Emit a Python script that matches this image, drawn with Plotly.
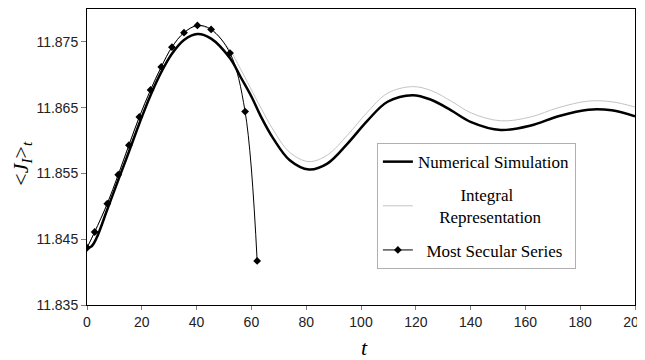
import plotly.graph_objects as go

# Numerical simulation (thick black)
t_num = [0, 1.6, 3.4, 7.3, 11.4, 15.3, 19.1, 23.2, 27.1, 31, 35.4, 40.3, 45.3, 52.2, 56,
         60, 63.3, 68, 74, 81, 87.7, 95, 102.3, 109.7, 118.8, 125.6, 132.9, 140.2, 151,
         162, 172, 183, 191.5, 200]
j_num = [11.8437, 11.8439, 11.8451, 11.8494, 11.8540, 11.8583, 11.8626, 11.8669, 11.8704,
         11.8732, 11.8753, 11.8762, 11.8755, 11.8725, 11.8697, 11.8667, 11.8638, 11.8603,
         11.8570, 11.8556, 11.8565, 11.8595, 11.8630, 11.8659, 11.8669, 11.8662, 11.8646,
         11.8628, 11.8616, 11.8623, 11.8637, 11.8647, 11.8646, 11.8637]

# Integral representation (thin light grey)
t_int = [0, 2.8, 7.4, 11.4, 15.3, 19.1, 23.2, 27.1, 31, 35.4, 40.3, 45.3, 52.2, 56, 63.3,
         68, 74, 81, 87.7, 95, 102.3, 109.7, 118.8, 125.6, 132.9, 140.2, 151, 162, 172,
         183, 191.5, 200]
j_int = [11.8437, 11.8461, 11.8504, 11.8548, 11.8593, 11.8636, 11.8677, 11.8712, 11.8742,
         11.8764, 11.8774, 11.8768, 11.8737, 11.8709, 11.8651, 11.8616, 11.8582, 11.8568,
         11.8578, 11.8608, 11.8643, 11.8672, 11.8682, 11.8676, 11.8660, 11.8642, 11.8630,
         11.8636, 11.8650, 11.8660, 11.8659, 11.8651]

# Most secular series (thin black with diamonds)
t_sec = [0, 2.8, 7.4, 11.4, 15.3, 19.1, 23.2, 27.1, 31.0, 35.4, 40.3, 45.3, 52.2, 57.7, 62.1]
j_sec = [11.8437, 11.8461, 11.8504, 11.8548, 11.8593, 11.8636, 11.8677, 11.8712, 11.8742,
         11.8764, 11.8775, 11.8769, 11.8733, 11.8644, 11.8417]

x_ticks = list(range(0, 201, 20))
y_ticks = [11.835, 11.845, 11.855, 11.865, 11.875]

NB = "\u00a0"
names = ["Numerical Simulation",
         NB * 10 + "Integral<br>" + NB * 5 + "Representation",
         NB * 2 + "Most Secular Series"]

fig = go.Figure()
fig.add_trace(go.Scatter(x=t_num, y=j_num, mode="lines", name=names[0],
                         line=dict(color="black", width=2.5, shape="spline"),
                         legendgroup="a"))
fig.add_trace(go.Scatter(x=t_int, y=j_int, mode="lines", name=names[1],
                         line=dict(color="#c4c4c4", width=1, shape="spline"),
                         legendgroup="b"))
fig.add_trace(go.Scatter(x=t_sec, y=j_sec, mode="lines+markers", name=names[2],
                         line=dict(color="black", width=1, shape="spline"),
                         marker=dict(symbol="diamond", size=6, color="black"),
                         legendgroup="c"))

serif = "Liberation Serif, Times New Roman, serif"
axis_font = dict(family="Liberation Sans, Arial, sans-serif", size=14, color="#222")
# the page body adds an 8px offset; the figure size compensates for it
fig.update_layout(
    width=637, height=352,
    margin=dict(l=79, r=10, t=1, b=55, autoexpand=False),
    paper_bgcolor="white", plot_bgcolor="white",
    showlegend=True,
    legend=dict(x=0.529, y=0.547, xanchor="left", yanchor="top",
                bgcolor="white", bordercolor="#b0b0b0", borderwidth=1,
                font=dict(family=serif, size=17, color="black"),
                itemwidth=30,
                traceorder="grouped", tracegroupgap=8),
    xaxis=dict(range=[0, 200], tickvals=x_ticks, ticks="outside", ticklen=4,
               tickcolor="#808080", showline=True, linecolor="black", linewidth=1,
               mirror=True, showgrid=False, zeroline=False, tickfont=axis_font,
               automargin=False, ticklabeloverflow="allow"),
    yaxis=dict(range=[11.835, 11.880], tickvals=y_ticks, tickformat=".3f", ticks="outside",
               ticklen=5, tickcolor="#808080", showline=True, linecolor="black", linewidth=1,
               mirror=True, showgrid=False, zeroline=False, tickfont=axis_font,
               automargin=False),
    annotations=[
        dict(text="<i>t</i>", xref="paper", yref="paper", x=0.507, y=-0.143,
             showarrow=False, xanchor="center", yanchor="middle",
             font=dict(family=serif, size=22, color="black")),
        dict(text="&lt;<i>J<sub>I</sub></i>&gt;<sub><i>t</i></sub>", xref="paper", yref="paper",
             x=-0.119, y=0.48, showarrow=False, textangle=-90,
             xanchor="center", yanchor="middle",
             font=dict(family=serif, size=22, color="black")),
    ],
)

fig.write_html("out.html")
